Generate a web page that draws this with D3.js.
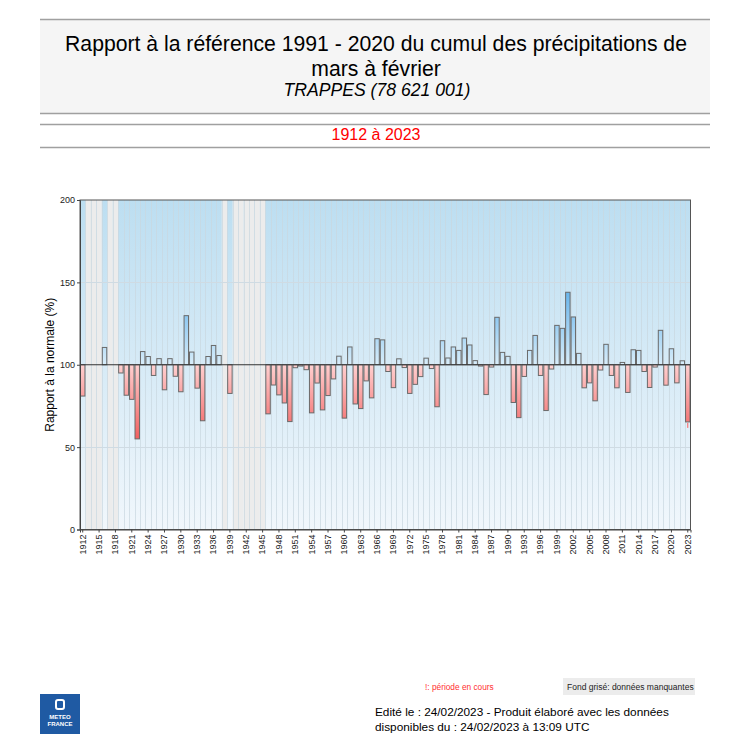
<!DOCTYPE html>
<html><head><meta charset="utf-8">
<script src="https://cdn.jsdelivr.net/npm/d3@7"></script>
<style>body{margin:0;background:#fff;font-family:"Liberation Sans",Arial,sans-serif}</style>
</head><body><svg id="c" width="750" height="750"></svg>
<script>
const firstYear = 1912, lastYear = 2023;
const years = d3.range(firstYear, lastYear + 1);
// Rapport à la normale (%) ; null = données manquantes
const values = [
 81, null, null, null, 110.5, null, null, 95, 81.5, 79,          // 1912-1921
 55, 108, 105, 93.5, 103.7, 84.8, 103.7, 93, 83.6, 129.8,        // 1922-1931
 107.7, 85.8, 66, 105, 111.7, 105.6, null, 82.6, null, null,     // 1932-1941
 null, null, null, null, 70.2, 87.7, 81.7, 76.8, 65.5, 98.2,     // 1942-1951
 99.2, 97, 70.8, 88.9, 72.6, 81.3, 91.4, 105.2, 67.6, 110.8,     // 1952-1961
 76.2, 73.4, 90.2, 79.9, 115.8, 115.1, 95.9, 86.1, 103.6, 98.3,  // 1962-1971
 82.6, 88.1, 92.8, 104, 97.7, 74.5, 114.6, 104.1, 110.8, 108.7,  // 1972-1981
 116.2, 112, 102.5, 99.2, 81.9, 98.6, 128.8, 107.5, 105.1, 77.1, // 1982-1991
 67.9, 92.9, 108.7, 117.8, 93.5, 72.2, 97.4, 123.9, 122.1, 144,  // 1992-2001
 129, 106.9, 86, 89, 78.1, 96.8, 112.4, 93.5, 86, 101.4,         // 2002-2011
 83.2, 109.1, 108.7, 95.9, 86.2, 98.6, 120.9, 87.6, 109.7, 89,   // 2012-2021
 102.4, 65.3                                                      // 2022-2023
];
const yTicks = [0, 50, 100, 150, 200];
const xTickYears = years.filter(y => (y - firstYear) % 3 === 0);
const currentYears = [2023];
const reference = 100;

const svg = d3.select("#c");
const F = '"Liberation Sans", Arial, sans-serif';

// ---- Header
svg.append("rect").attr("x", 40).attr("y", 19).attr("width", 670).attr("height", 94).attr("fill", "#f5f5f5");
[19, 113, 124, 147].forEach(y => svg.append("line").attr("x1", 40).attr("x2", 710).attr("y1", y + 0.5).attr("y2", y + 0.5).attr("stroke", "#a0a0a0").attr("stroke-width", 1.5));
svg.append("text").attr("x", 376).attr("y", 50.5).attr("text-anchor", "middle").attr("font-family", F).attr("font-size", 21.2).attr("fill", "#000")
  .text("Rapport à la référence 1991 - 2020 du cumul des précipitations de");
svg.append("text").attr("x", 376).attr("y", 75.5).attr("text-anchor", "middle").attr("font-family", F).attr("font-size", 21.2).attr("fill", "#000")
  .text("mars à février");
svg.append("text").attr("x", 377).attr("y", 96).attr("text-anchor", "middle").attr("font-family", F).attr("font-size", 17.6).attr("font-style", "italic").attr("fill", "#000")
  .text("TRAPPES (78 621 001)");
svg.append("text").attr("x", 376).attr("y", 140).attr("text-anchor", "middle").attr("font-family", F).attr("font-size", 16).attr("fill", "#ff0000")
  .text(firstYear + " à " + lastYear);

// ---- Scales
const L = 80, R = 690.5, T = 200, B = 529.5;
const x = d3.scaleBand().domain(years).range([L, R]).padding(0);
const y = d3.scaleLinear().domain([0, 200]).range([B, T]);

const defs = svg.append("defs");
const bg = defs.append("linearGradient").attr("id", "bg").attr("x1", 0).attr("x2", 0).attr("y1", 0).attr("y2", 1);
bg.append("stop").attr("offset", "0%").attr("stop-color", "#bcdef1");
bg.append("stop").attr("offset", "100%").attr("stop-color", "#f1f7fc");
const gPos = defs.append("linearGradient").attr("id", "gpos").attr("gradientUnits", "userSpaceOnUse")
  .attr("x1", 0).attr("x2", 0).attr("y1", y(reference)).attr("y2", y(150));
gPos.append("stop").attr("offset", "0%").attr("stop-color", "#d8edfa");
gPos.append("stop").attr("offset", "100%").attr("stop-color", "#5aaeea");
const gNeg = defs.append("linearGradient").attr("id", "gneg").attr("gradientUnits", "userSpaceOnUse")
  .attr("x1", 0).attr("x2", 0).attr("y1", y(reference)).attr("y2", y(50));
gNeg.append("stop").attr("offset", "0%").attr("stop-color", "#ffd0d0");
gNeg.append("stop").attr("offset", "100%").attr("stop-color", "#f05252");

svg.append("rect").attr("x", L).attr("y", T).attr("width", R - L).attr("height", B - T).attr("fill", "url(#bg)");

// missing years
svg.append("g").selectAll("rect").data(years.filter((yr, i) => values[i] === null)).join("rect")
  .attr("x", d => x(d)).attr("y", T).attr("width", x.bandwidth()).attr("height", B - T).attr("fill", "#ececec");

// vertical grid
svg.append("g").selectAll("line").data(years.slice(1)).join("line")
  .attr("x1", d => Math.round(x(d)) + 0.5).attr("x2", d => Math.round(x(d)) + 0.5).attr("y1", T).attr("y2", B)
  .attr("stroke", "#c9d7e0").attr("stroke-opacity", 0.7).attr("stroke-width", 1);
// horizontal grid
svg.append("g").selectAll("line").data([50, 150]).join("line")
  .attr("x1", L).attr("x2", R).attr("y1", d => Math.round(y(d)) + 0.5).attr("y2", d => Math.round(y(d)) + 0.5)
  .attr("stroke", "#cfdbe3").attr("stroke-width", 1);

// bars
const data = years.map((yr, i) => ({ yr, v: values[i] })).filter(d => d.v !== null);
svg.append("g").selectAll("rect").data(data).join("rect")
  .attr("x", d => x(d.yr) + 0.5).attr("width", x.bandwidth() - 1)
  .attr("y", d => y(Math.max(d.v, reference)))
  .attr("height", d => Math.abs(y(d.v) - y(reference)))
  .attr("fill", d => d.v >= reference ? "url(#gpos)" : "url(#gneg)")
  .attr("stroke", "#6a6a6a").attr("stroke-width", 1);

// current period marker
svg.append("g").selectAll("line").data(data.filter(d => currentYears.includes(d.yr))).join("line")
  .attr("x1", d => x(d.yr) + x.bandwidth() / 2).attr("x2", d => x(d.yr) + x.bandwidth() / 2)
  .attr("y1", d => y(d.v) + 1).attr("y2", d => y(d.v) + 6).attr("stroke", "#ff6060").attr("stroke-width", 1);

// reference line
svg.append("line").attr("x1", L).attr("x2", R).attr("y1", y(reference)).attr("y2", y(reference)).attr("stroke", "#333").attr("stroke-width", 1);

// frame
svg.append("rect").attr("x", L).attr("y", T).attr("width", R - L).attr("height", B - T).attr("fill", "none").attr("stroke", "#555").attr("stroke-width", 1);

// axes
const yAxis = d3.axisLeft(y).tickValues(yTicks).tickSize(3).tickPadding(2);
const gy = svg.append("g").attr("transform", `translate(${L},0)`).call(yAxis);
gy.select(".domain").attr("stroke", "#444");
gy.selectAll("line").attr("stroke", "#444");
gy.selectAll("text").attr("font-family", F).attr("font-size", 9).attr("fill", "#222");

const xAxis = d3.axisBottom(x).tickValues(xTickYears).tickSize(3).tickPadding(2);
const gx = svg.append("g").attr("transform", `translate(0,${B})`).call(xAxis);
gx.select(".domain").attr("stroke", "#444");
gx.selectAll("line").attr("stroke", "#444");
gx.selectAll("text").attr("font-family", F).attr("font-size", 9).attr("fill", "#222")
  .attr("transform", "rotate(-90)").attr("text-anchor", "end").attr("dy", "0.32em").attr("x", -5).attr("y", 0);

svg.append("text").attr("transform", `translate(54,${y(100)}) rotate(-90)`).attr("text-anchor", "middle")
  .attr("font-family", F).attr("font-size", 12).attr("fill", "#000").text("Rapport à la normale (%)");

// ---- Footer
svg.append("text").attr("x", 425).attr("y", 690).attr("font-family", F).attr("font-size", 8.3).attr("fill", "#ff3030").text("!: période en cours");
svg.append("rect").attr("x", 563).attr("y", 678).attr("width", 132).attr("height", 17).attr("fill", "#ececec");
svg.append("text").attr("x", 567).attr("y", 690).attr("font-family", F).attr("font-size", 8.5).attr("fill", "#222").text("Fond grisé: données manquantes");

const logo = svg.append("g").attr("transform", "translate(40,694)");
logo.append("rect").attr("width", 40).attr("height", 40).attr("fill", "#1f5aa3");
logo.append("rect").attr("x", 16).attr("y", 6).attr("width", 8).attr("height", 9).attr("rx", 2).attr("fill", "none").attr("stroke", "#fff").attr("stroke-width", 2);
logo.append("text").attr("x", 20).attr("y", 25).attr("text-anchor", "middle").attr("font-family", F).attr("font-size", 6).attr("font-weight", "bold").attr("fill", "#fff").text("METEO");
logo.append("text").attr("x", 20).attr("y", 32).attr("text-anchor", "middle").attr("font-family", F).attr("font-size", 6).attr("font-weight", "bold").attr("fill", "#fff").text("FRANCE");

svg.append("text").attr("x", 375).attr("y", 716).attr("font-family", F).attr("font-size", 11.8).attr("fill", "#000").text("Edité le : 24/02/2023 - Produit élaboré avec les données");
svg.append("text").attr("x", 375).attr("y", 731).attr("font-family", F).attr("font-size", 11.8).attr("fill", "#000").text("disponibles du : 24/02/2023 à 13:09 UTC");
</script></body></html>
